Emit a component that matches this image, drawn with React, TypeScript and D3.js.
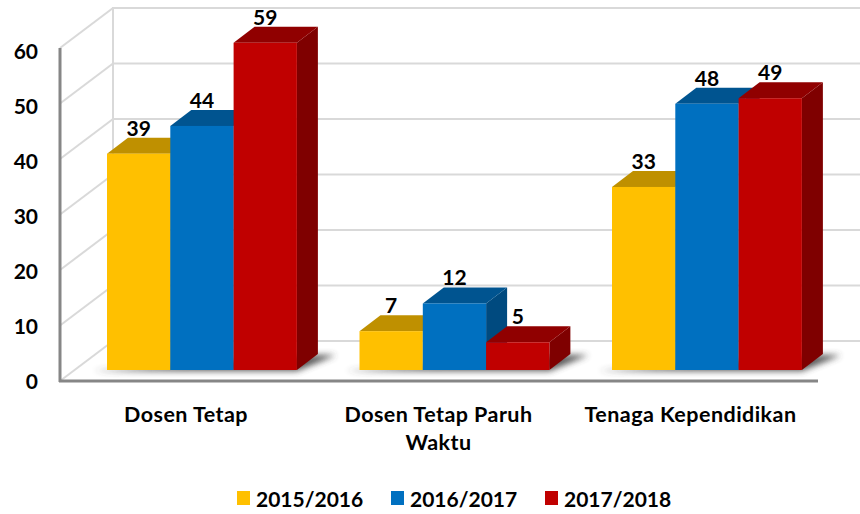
import React from "react";
import * as d3 from "d3";

const categories = [["Dosen Tetap"], ["Dosen Tetap Paruh", "Waktu"], ["Tenaga Kependidikan"]];
const seriesNames = ["2015/2016", "2016/2017", "2017/2018"];
const values2015 = [39, 7, 33];
const values2016 = [44, 12, 48];
const values2017 = [59, 5, 49];
const series = [values2015, values2016, values2017];
const ticks = [0, 10, 20, 30, 40, 50, 60];
const front = ["#FFC000", "#0070C0", "#C00000"];
const topCol = ["#BF9000", "#005490", "#900000"];
const sideCol = ["#BF9000", "#004A7F", "#7F0000"];
const FONT = "Lato, 'Open Sans', sans-serif";

export default function App() {
  const y = d3.scaleLinear().domain([0, 60]).range([370, 37.2]);
  const yAxis = d3.scaleLinear().domain([0, 60]).range([381, 48]);
  const yLabel = d3.scaleLinear().domain([0, 60]).range([382, 52]);
  const step = 252.5;
  const bw = 63.3;
  const bx = (c: number, s: number) => 107 + c * step + s * bw;
  const dx = 21, dy = 16;
  const wx = 53, wy = 40;
  return (
    <svg width={860} height={514} style={{ position: "absolute", left: 0, top: 0, background: "#fff" }}>
      <defs>
        <filter id="sh" x="-20%" y="-100%" width="140%" height="300%">
          <feGaussianBlur stdDeviation="3" />
        </filter>
      </defs>
      {ticks.map((t) => (
        <g key={t} stroke="#D9D9D9" strokeWidth={2} fill="none">
          <line x1={60 + wx} x2={860} y1={yAxis(t) - wy} y2={yAxis(t) - wy} />
          <line x1={60} x2={60 + wx} y1={yAxis(t)} y2={yAxis(t) - wy} />
        </g>
      ))}
      <line x1={113} x2={113} y1={yAxis(60) - wy - 1} y2={yAxis(0) - wy} stroke="#D9D9D9" strokeWidth={2} />
      <line x1={60} x2={60} y1={yAxis(60)} y2={382} stroke="#868686" strokeWidth={3} />
      <line x1={59} x2={818} y1={381} y2={381} stroke="#868686" strokeWidth={3} />
      {categories.map((_, c) => (
        <polygon
          key={c}
          filter="url(#sh)"
          fill="#444"
          opacity={0.9}
          points={`${bx(c, 0) - 14},371 ${bx(c, 3)},371 ${bx(c, 3) + dx + 18},${370 - dy + 1} ${bx(c, 3) + dx},${370 - dy + 1}`}
        />
      ))}
      {categories.map((_, c) =>
        [0, 1, 2].map((s) => {
          const x0 = bx(c, s), x1 = x0 + bw, yt = y(series[s][c]);
          return (
            <g key={`${c}-${s}`}>
              <polygon fill={sideCol[s]} points={`${x1},${yt} ${x1 + dx},${yt - dy} ${x1 + dx},${370 - dy} ${x1},370`} />
              <polygon fill={topCol[s]} points={`${x0},${yt} ${x0 + dx},${yt - dy} ${x1 + dx},${yt - dy} ${x1},${yt}`} />
              <rect x={x0} y={yt} width={bw} height={370 - yt} fill={front[s]} />
            </g>
          );
        })
      )}
      {categories.map((_, c) =>
        [0, 1, 2].map((s) => (
          <text key={`${c}-${s}`} x={bx(c, s) + bw / 2} y={y(series[s][c]) - 18} textAnchor="middle" fontFamily={FONT} fontWeight={700} fontSize={21} fill="#000">
            {series[s][c]}
          </text>
        ))
      )}
      {ticks.map((t) => (
        <text key={t} x={38} y={yLabel(t) + 7} textAnchor="end" fontFamily={FONT} fontWeight={700} fontSize={21} fill="#000">
          {t}
        </text>
      ))}
      {categories.map((lines, c) =>
        lines.map((l, i) => (
          <text key={l} x={[186, 438.5, 690.5][c]} y={421.5 + i * 28.5} textAnchor="middle" fontFamily={FONT} fontWeight={700} fontSize={21.5} letterSpacing={0.45} fill="#000">
            {l}
          </text>
        ))
      )}
      {seriesNames.map((n, s) => (
        <g key={n}>
          <rect x={237 + s * 154} y={491} width={13} height={14} fill={front[s]} />
          <text x={256 + s * 154} y={507} fontFamily={FONT} fontWeight={700} fontSize={21} fill="#000">
            {n}
          </text>
        </g>
      ))}
    </svg>
  );
}
